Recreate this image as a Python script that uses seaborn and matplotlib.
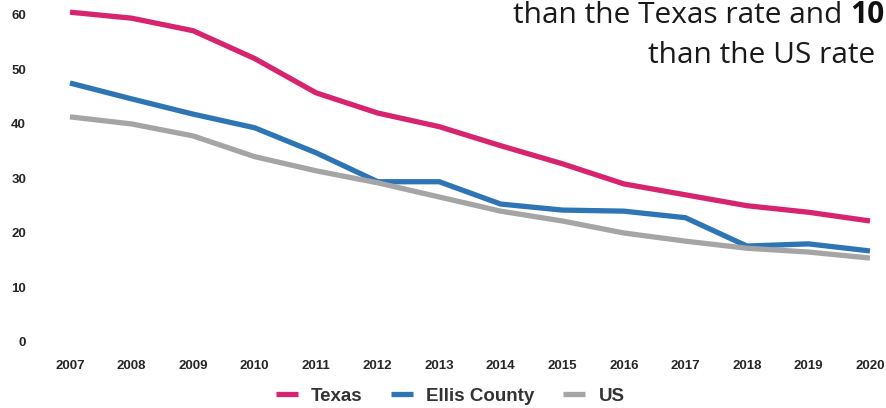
import matplotlib
matplotlib.use("Agg")
import matplotlib.pyplot as plt
import seaborn as sns
import pandas as pd

years = [2007, 2008, 2009, 2010, 2011, 2012, 2013, 2014, 2015, 2016, 2017, 2018, 2019, 2020]
texas = [60.5, 59.4, 57.1, 52.0, 45.7, 42.0, 39.5, 36.0, 32.7, 29.0, 27.0, 25.0, 23.8, 22.2]
ellis = [47.5, 44.6, 41.8, 39.3, 34.7, 29.4, 29.4, 25.3, 24.2, 24.0, 22.8, 17.6, 18.0, 16.7]
us = [41.3, 40.0, 37.8, 34.0, 31.4, 29.2, 26.6, 24.0, 22.2, 20.0, 18.5, 17.2, 16.5, 15.4]
series_names = ["Texas", "Ellis County", "US"]
y_ticks = [0, 10, 20, 30, 40, 50, 60]
colors = ["#D6246E", "#2E75B6", "#A5A5A5"]

df = pd.DataFrame({
    "Year": years * 3,
    "Rate": texas + ellis + us,
    "Series": [series_names[0]] * len(years) + [series_names[1]] * len(years) + [series_names[2]] * len(years),
})

sns.set_theme(style="white")
plt.rcParams["font.family"] = ["Liberation Sans", "DejaVu Sans"]

W, H = 887, 408
fig = plt.figure(figsize=(W / 100, H / 100), dpi=100)
ax_left, ax_right = 40, 887
ax_top, ax_bottom = 4, 342
ax = fig.add_axes([ax_left / W, 1 - ax_bottom / H, (ax_right - ax_left) / W, (ax_bottom - ax_top) / H])

sns.lineplot(data=df, x="Year", y="Rate", hue="Series", palette=colors,
             hue_order=series_names, linewidth=3.8, ax=ax, legend=True,
             solid_capstyle="butt")

px_per_year = (870 - 70) / 13
ax.set_xlim(2007 - (70 - ax_left) / px_per_year, 2020 + (ax_right - 870) / px_per_year)
ax.set_ylim(0, 62)
ax.set_xticks(years)
ax.set_xticklabels([str(y) for y in years])
ax.set_yticks(y_ticks)
ax.set_yticklabels([str(v) for v in y_ticks])
ax.tick_params(axis="both", length=0, labelsize=9.5, colors="#262626")
ax.tick_params(axis="x", pad=13)
ax.tick_params(axis="y", pad=10)
for lab in ax.get_xticklabels() + ax.get_yticklabels():
    lab.set_fontweight("bold")
for s in ax.spines.values():
    s.set_visible(False)
ax.set_xlabel("")
ax.set_ylabel("")

leg = ax.legend(loc="center", bbox_to_anchor=(450 / W, 1 - 396 / H),
                bbox_transform=fig.transFigure, ncol=3, frameon=False,
                handlelength=1.2, columnspacing=1.5, handletextpad=0.7,
                prop={"weight": "bold", "size": 13.5})
for t in leg.get_texts():
    t.set_color("#333333")
for l in leg.get_lines():
    l.set_linewidth(3.8)

top_font = ["Open Sans", "DejaVu Sans"]
t1 = fig.text(513 / W, 1 - 23 / H, "than the Texas rate and ", fontsize=21.5,
              family=top_font, fontweight="normal", color="#1a1a1a",
              ha="left", va="baseline")
ax.annotate("10", xy=(1, 0), xycoords=t1, xytext=(0, 0), textcoords="offset points",
            fontsize=21.5, family=top_font, fontweight="bold",
            color="#111111", ha="left", va="bottom", annotation_clip=False)
fig.text(648 / W, 1 - 63 / H, "than the US rate", fontsize=21.5,
         family=top_font, fontweight="normal", color="#1a1a1a",
         ha="left", va="baseline")

fig.savefig("out.png", dpi=100)
